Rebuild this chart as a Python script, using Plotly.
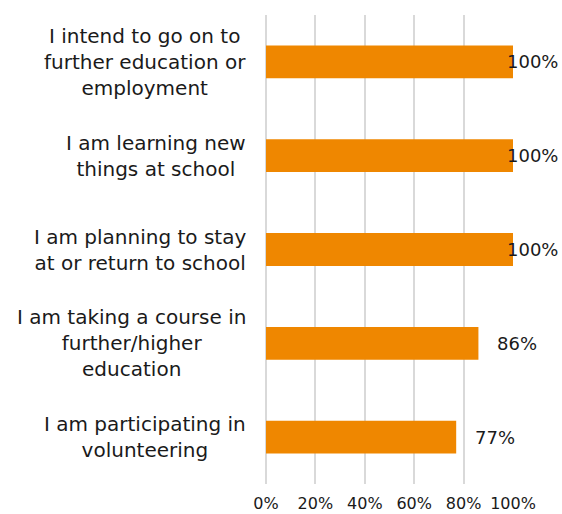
import plotly.graph_objects as go

# Survey statements and share of respondents agreeing (percent)
statements = [
    "I intend to go on to<br>further education or<br>employment",
    "I am learning new<br>things at school",
    "I am planning to stay<br>at or return to school",
    "I am taking a course in<br>further/higher<br>education",
    "I am participating in<br>volunteering",
]
values = [100, 100, 100, 86, 77]
x_ticks = [0, 20, 40, 60, 80, 100]
x_tick_labels = ["0%", "20%", "40%", "60%", "80%", "100%"]

BAR_COLOR = "#EF8700"
TEXT_COLOR = "#1a1a1a"
GRID_COLOR = "#d9d9d9"
FONT = "DejaVu Sans"

W, H = 562, 514
M_L, M_R, M_T, M_B = 266, 49, 15, 30
plot_w = W - M_L - M_R

fig = go.Figure(
    go.Bar(
        x=values,
        y=statements,
        orientation="h",
        marker=dict(color=BAR_COLOR, line=dict(width=0)),
        hoverinfo="skip",
    )
)

# Category labels drawn as centred multi-line annotations left of the plot
annotations = []
for s in statements:
    annotations.append(dict(
        x=0, xref="paper", y=s, yref="y", text=s, showarrow=False,
        xanchor="right", yanchor="middle", align="center", xshift=-18,
        font=dict(family=FONT, size=20, color=TEXT_COLOR),
    ))

# Value labels just past each bar end, kept inside the chart's right edge
LABEL_SIZE = 18
for s, v in zip(statements, values):
    txt = f"{v}%"
    est_w = sum(0.95 if ch == "%" else 0.636 for ch in txt) * LABEL_SIZE
    bar_end = v / 100 * plot_w + M_L
    shift = min(17, (W - 6) - est_w - bar_end)
    annotations.append(dict(
        x=v, xref="x", y=s, yref="y", text=txt, showarrow=False,
        xanchor="left", yanchor="middle", xshift=shift,
        font=dict(family=FONT, size=LABEL_SIZE, color=TEXT_COLOR),
    ))

fig.update_layout(
    width=W, height=H,
    margin=dict(l=M_L, r=M_R, t=M_T, b=M_B, pad=0),
    paper_bgcolor="white", plot_bgcolor="white",
    bargap=0.65,
    showlegend=False,
    annotations=annotations,
    font=dict(family=FONT, color=TEXT_COLOR),
)
fig.update_xaxes(
    range=[0, 100], tickvals=x_ticks, ticktext=x_tick_labels,
    showgrid=True, gridcolor=GRID_COLOR, gridwidth=2,
    zeroline=True, zerolinecolor=GRID_COLOR, zerolinewidth=2,
    showline=False, ticks="", ticklabelstandoff=8, automargin=False,
    tickfont=dict(family=FONT, size=16, color=TEXT_COLOR),
    layer="below traces",
)
fig.update_yaxes(
    autorange="reversed", showticklabels=False, showgrid=False,
    zeroline=False, showline=False, ticks="", automargin=False,
)

fig.write_html("out.html")
